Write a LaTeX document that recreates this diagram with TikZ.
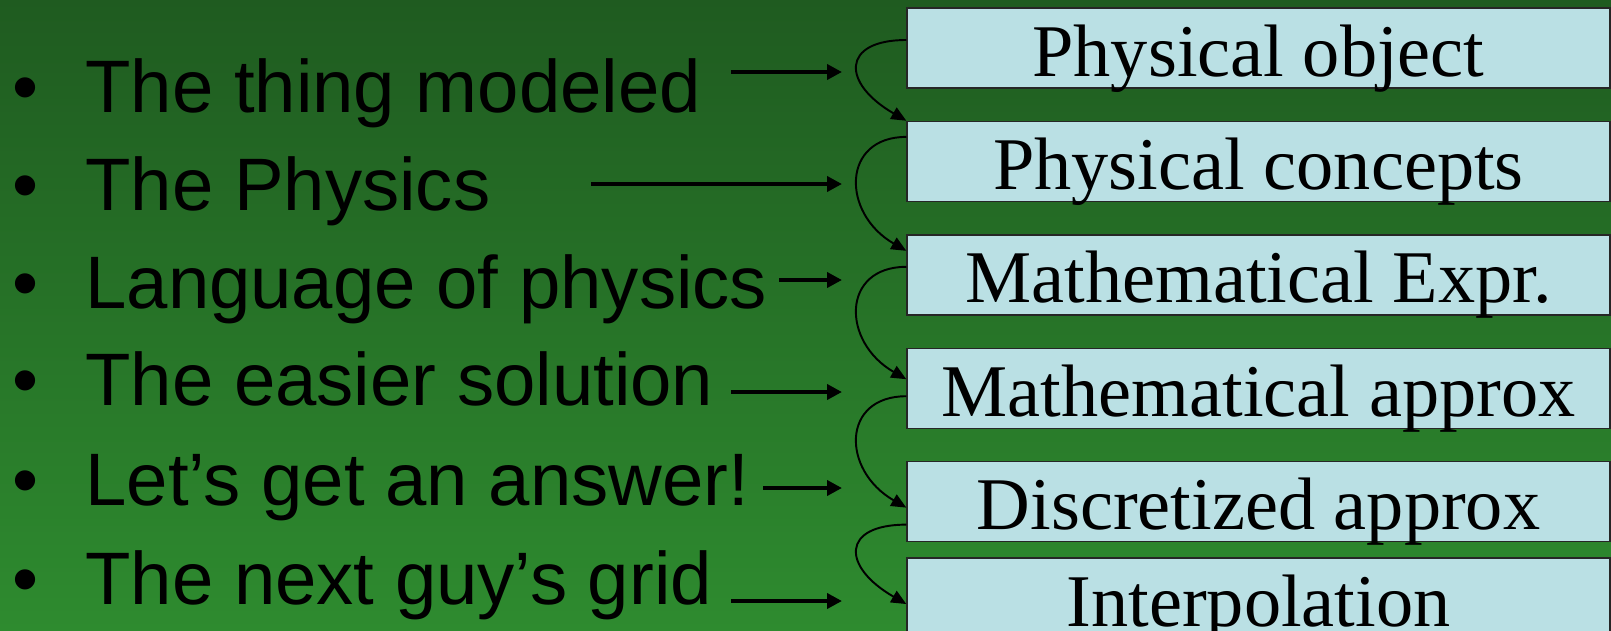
\documentclass[tikz,border=0pt]{standalone}
\usepackage{fontspec}
\setmainfont{Liberation Sans}
\newfontfamily\serifbox{Liberation Serif}
\usetikzlibrary{arrows.meta,positioning,calc}
\definecolor{bgtop}{RGB}{31,91,32}
\definecolor{bgbottom}{RGB}{46,139,47}
\definecolor{boxcyan}{RGB}{186,224,228}

\begin{document}
\begin{tikzpicture}[
    node distance=0.64cm,
    stage/.style={rectangle, draw=black!85, line width=0.8pt, fill=boxcyan, minimum width=14.06cm, inner sep=0pt, text height=1.36cm, text depth=0.24cm, font=\serifbox\fontsize{42.3}{50}\selectfont},
    item/.style={anchor=base west, inner sep=0pt, font=\fontsize{42.3}{50}\selectfont},
    harrow/.style={line width=2.2pt, -{Triangle[length=0.3cm, width=0.3cm]}},
    carrow/.style={line width=1.1pt, -{Triangle[length=0.3cm, width=0.26cm]}}
]
    % Background
    \shade[top color=bgtop, bottom color=bgbottom] (0,0) rectangle (32.22,12.6);
    \useasboundingbox (0,0) rectangle (32.22,12.6);

    % Bullet list
    \node[item] (t1) at (0.24,10.36) {•\hspace{0.94cm}The thing modeled};
    \node[item] (t2) at (0.24,8.40) {•\hspace{0.94cm}The Physics};
    \node[item] (t3) at (0.24,6.44) {•\hspace{0.94cm}Language of physics};
    \node[item] (t4) at (0.24,4.50) {•\hspace{0.94cm}The easier solution};
    \node[item] (t5) at (0.24,2.50) {•\hspace{0.94cm}Let’s get an answer!};
    \node[item] (t6) at (0.24,0.52) {•\hspace{0.94cm}The next guy’s grid};

    % Modelling stages
    \node[stage] (b1) at (25.17,11.64) {Physical object};
    \node[stage, below=of b1] (b2) {Physical concepts};
    \node[stage, below=of b2] (b3) {Mathematical Expr.};
    \node[stage, below=of b3] (b4) {Mathematical approx};
    \node[stage, below=of b4] (b5) {Discretized approx};
    \node[stage, below=0.3cm of b5] (b6) {Interpolation};

    % Arrow ends
    \coordinate (s1) at (14.62,11.16);
    \coordinate (e1) at (16.84,11.16);
    \coordinate (s2) at (11.82,8.92);
    \coordinate (e2) at (16.84,8.92);
    \coordinate (s3) at (15.58,7.00);
    \coordinate (e3) at (16.84,7.00);
    \coordinate (s4) at (14.62,4.76);
    \coordinate (e4) at (16.84,4.76);
    \coordinate (s5) at (15.26,2.84);
    \coordinate (e5) at (16.84,2.84);
    \coordinate (s6) at (14.62,0.58);
    \coordinate (e6) at (16.84,0.58);

    % Edges
    \draw[harrow] (s1) -- (e1);
    \draw[harrow] (s2) -- (e2);
    \draw[harrow] (s3) -- (e3);
    \draw[harrow] (s4) -- (e4);
    \draw[harrow] (s5) -- (e5);
    \draw[harrow] (s6) -- (e6);

    \draw[carrow] ([yshift=0.16cm]b1.west) .. controls +(-1.3,0) and +(-1.3,0.75) .. (b2.north west);
    \draw[carrow] ([yshift=0.49cm]b2.west) .. controls +(-1.3,0) and +(-1.3,0.75) .. ([yshift=0.48cm]b3.west);
    \draw[carrow] ([yshift=0.16cm]b3.west) .. controls +(-1.3,0) and +(-1.3,0.75) .. ([yshift=0.18cm]b4.west);
    \draw[carrow] ([yshift=-0.16cm]b4.west) .. controls +(-1.3,0) and +(-1.3,0.75) .. ([yshift=-0.12cm]b5.west);
    \draw[carrow] ([yshift=-0.46cm]b5.west) .. controls +(-1.3,0) and +(-1.3,0.75) .. ([yshift=-0.12cm]b6.west);
\end{tikzpicture}
\end{document}
